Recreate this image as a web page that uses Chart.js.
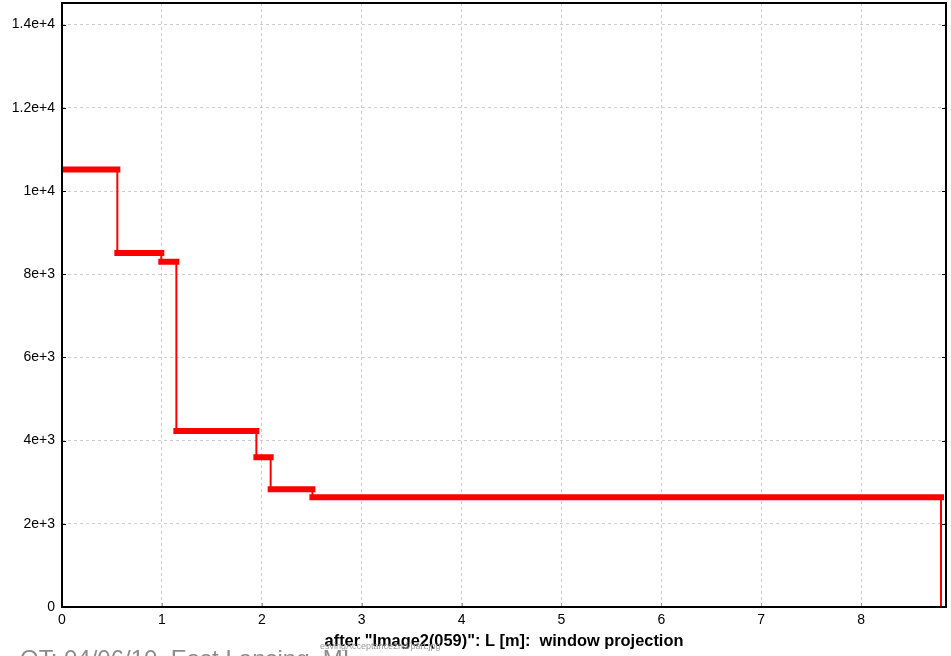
<!DOCTYPE html>
<html>
<head>
<meta charset="utf-8">
<script src="https://cdn.jsdelivr.net/npm/chart.js@4"></script>
<style>
  html, body { margin: 0; padding: 0; background: #fff; }
  #wrap { width: 951px; height: 656px; position: relative; }
</style>
</head>
<body>
<div id="wrap"><canvas id="c" width="951" height="656"></canvas></div>
<script>
// Bin edges along L [m] and the count in each bin
const binEdges = [0, 0.554, 0.994, 1.145, 1.946, 2.089, 2.507, 8.80];
const binCounts = [10520, 8510, 8300, 4230, 3600, 2830, 2640];

// Axis ticks
const yTickValues = [0, 2000, 4000, 6000, 8000, 10000, 12000, 14000];
const yTickLabels = ['0', '2e+3', '4e+3', '6e+3', '8e+3', '1e+4', '1.2e+4', '1.4e+4'];
const xTickValues = [0, 1, 2, 3, 4, 5, 6, 7, 8];

const xTitle = 'after "Image2(059)": L [m]:  window projection';
const footerText = 'OT: 04/06/10. East Lansing. MI';
const fileText = 'esvingAcceptance2nd/part.jpg';

// Thick level segments, one per bin, separated by gaps
const levelPoints = [];
binCounts.forEach((v, i) => {
  levelPoints.push({ x: binEdges[i], y: v });
  levelPoints.push({ x: binEdges[i + 1], y: v });
  levelPoints.push({ x: binEdges[i + 1], y: null });
});

// Thin outline joining the levels, dropping to zero at the last edge
const outlinePoints = binCounts.map((v, i) => ({ x: binEdges[i], y: v }));
outlinePoints.push({ x: binEdges[binEdges.length - 1], y: 0 });

const FONT = '"Liberation Sans", Arial, sans-serif';

const framePlugin = {
  id: 'frame',
  afterDatasetsDraw(chart) {
    const { ctx, chartArea: a, scales } = chart;
    ctx.save();
    // inward tick marks
    ctx.strokeStyle = '#000';
    ctx.lineWidth = 1;
    yTickValues.forEach(v => {
      const y = Math.round(scales.y.getPixelForValue(v)) + 0.5;
      ctx.beginPath();
      ctx.moveTo(a.left, y); ctx.lineTo(a.left + 4, y);
      ctx.moveTo(a.right, y); ctx.lineTo(a.right - 4, y);
      ctx.stroke();
    });
    ctx.strokeStyle = '#999';
    xTickValues.forEach(v => {
      const x = Math.round(scales.x.getPixelForValue(v)) + 0.5;
      ctx.beginPath();
      ctx.moveTo(x, a.bottom); ctx.lineTo(x, a.bottom - 4);
      ctx.stroke();
    });
    // frame
    ctx.strokeStyle = '#000';
    ctx.lineWidth = 2;
    ctx.strokeRect(a.left, a.top, a.right - a.left, a.bottom - a.top);
    ctx.restore();
  },
  afterDraw(chart) {
    const { ctx, chartArea: a } = chart;
    ctx.save();
    // lower caption, partly outside the canvas
    ctx.fillStyle = '#8c8c8c';
    ctx.font = '24px ' + FONT;
    ctx.textAlign = 'left';
    ctx.textBaseline = 'alphabetic';
    ctx.fillText(footerText, 20, 667);
    // x axis title
    ctx.fillStyle = '#000';
    ctx.font = 'bold 16.4px ' + FONT;
    ctx.textAlign = 'center';
    ctx.textBaseline = 'middle';
    ctx.fillText(xTitle, (a.left + a.right) / 2, 641);
    // file name
    ctx.fillStyle = '#9a9a9a';
    ctx.font = '9px ' + FONT;
    ctx.textAlign = 'left';
    ctx.textBaseline = 'middle';
    ctx.fillText(fileText, 320, 647);
    ctx.restore();
  }
};

new Chart(document.getElementById('c'), {
  type: 'line',
  data: {
    datasets: [
      {
        data: levelPoints,
        borderColor: '#ff0000',
        borderWidth: 6,
        borderCapStyle: 'square',
        pointRadius: 0,
        spanGaps: false,
        tension: 0,
        order: 0
      },
      {
        data: outlinePoints,
        borderColor: '#ff0000',
        borderWidth: 2,
        stepped: 'before',
        pointRadius: 0,
        tension: 0,
        order: 1
      }
    ]
  },
  options: {
    responsive: false,
    animation: false,
    devicePixelRatio: 1,
    layout: { padding: { top: 3, right: 5, left: 0, bottom: 0 } },
    plugins: { legend: { display: false }, tooltip: { enabled: false } },
    scales: {
      x: {
        type: 'linear',
        min: 0,
        max: 8.85,
        afterFit(s) { s.height = 49; s.paddingLeft = 0; s.paddingRight = 0; },
        afterBuildTicks(s) { s.ticks = xTickValues.map(v => ({ value: v })); },
        ticks: {
          includeBounds: false,
          padding: 5,
          color: '#000',
          font: { family: FONT, size: 14 },
          maxRotation: 0,
          callback: v => String(v)
        },
        grid: { color: '#cccccc', drawTicks: false, lineWidth: 1 },
        border: { display: false, dash: [3, 3] }
      },
      y: {
        type: 'linear',
        min: 0,
        max: 14520,
        afterFit(s) { s.width = 62; s.paddingTop = 0; s.paddingBottom = 0; },
        afterBuildTicks(s) { s.ticks = yTickValues.map(v => ({ value: v })); },
        ticks: {
          includeBounds: false,
          padding: 7,
          color: '#000',
          font: { family: FONT, size: 14 },
          callback: v => yTickLabels[yTickValues.indexOf(v)]
        },
        grid: { color: '#cccccc', drawTicks: false, lineWidth: 1 },
        border: { display: false, dash: [3, 3] }
      }
    }
  },
  plugins: [framePlugin]
});
</script>
</body>
</html>
